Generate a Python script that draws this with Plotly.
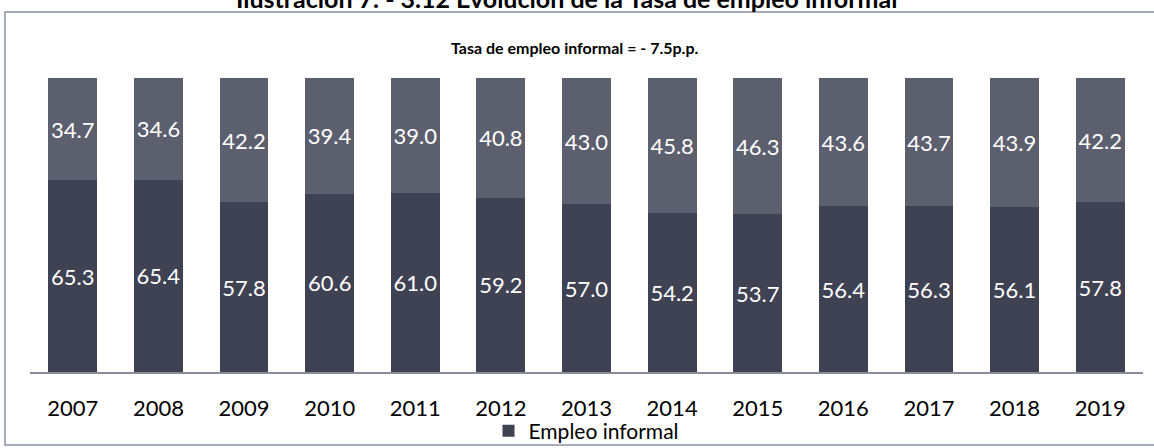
import plotly.graph_objects as go

# Participación del empleo informal y formal (%), 2007-2019
years = ["2007", "2008", "2009", "2010", "2011", "2012", "2013",
         "2014", "2015", "2016", "2017", "2018", "2019"]
informal = [65.3, 65.4, 57.8, 60.6, 61.0, 59.2, 57.0, 54.2, 53.7, 56.4, 56.3, 56.1, 57.8]
formal = [34.7, 34.6, 42.2, 39.4, 39.0, 40.8, 43.0, 45.8, 46.3, 43.6, 43.7, 43.9, 42.2]

title_text = "Ilustración 7. - 3.12 Evolución de la Tasa de empleo informal"
subtitle_text = "Tasa de empleo informal = - 7.5p.p."

FONT = "Lato"
COL_INFORMAL = "#3e4253"
COL_FORMAL = "#5c606e"

fig = go.Figure()
fig.add_trace(go.Bar(
    x=years, y=informal, name="Empleo informal",
    marker=dict(color=COL_INFORMAL, line=dict(width=0)),
    texttemplate="%{y:.1f}", textposition="inside", insidetextanchor="middle",
    textangle=0, textfont=dict(family=FONT, size=22, color="white"),
))
fig.add_trace(go.Bar(
    x=years, y=formal, name="Empleo formal", showlegend=False,
    marker=dict(color=COL_FORMAL, line=dict(width=0)),
    texttemplate="%{y:.1f}", textposition="inside", insidetextanchor="middle",
    textangle=0, textfont=dict(family=FONT, size=22, color="white"),
))

fig.update_layout(
    width=1154, height=448,
    barmode="stack", bargap=0.43,
    margin=dict(l=30, r=11, t=78, b=76, autoexpand=False),
    paper_bgcolor="white", plot_bgcolor="white",
    font=dict(family=FONT, color="black"),
    uniformtext=dict(minsize=22, mode="show"),
    showlegend=True,
    legend=dict(orientation="h", x=0.5, xanchor="center", y=(372 - 431) / 294,
                yanchor="middle", font=dict(family=FONT, size=21, color="black"),
                bgcolor="rgba(0,0,0,0)", itemwidth=30),
    xaxis=dict(type="category", showgrid=False, showline=True, linecolor="#8a8c98",
               linewidth=1.5, ticks="outside", ticklen=16, tickcolor="rgba(0,0,0,0)",
               tickfont=dict(family=FONT, size=22, color="black")),
    yaxis=dict(range=[0, 100], visible=False, showgrid=False),
)

# Chart frame
fig.add_shape(type="rect", xref="paper", yref="paper",
              x0=-0.0225, x1=1.03, y0=-0.248, y1=1.2245,
              line=dict(color="#8b909e", width=1.5), fillcolor="rgba(0,0,0,0)",
              layer="below")

# Caption above the frame and subtitle inside it
fig.add_annotation(text="<b>" + title_text + "</b>", xref="paper", yref="paper",
                   x=0.482, y=(372 + 2) / 294, xanchor="center", yanchor="middle",
                   showarrow=False, font=dict(family=FONT, size=25, color="black"))
fig.add_annotation(text="<b>" + subtitle_text + "</b>", xref="paper", yref="paper",
                   x=0.49, y=(372 - 47) / 294, xanchor="center", yanchor="middle",
                   showarrow=False, font=dict(family=FONT, size=16, color="black"))

fig.write_html("out.html")
